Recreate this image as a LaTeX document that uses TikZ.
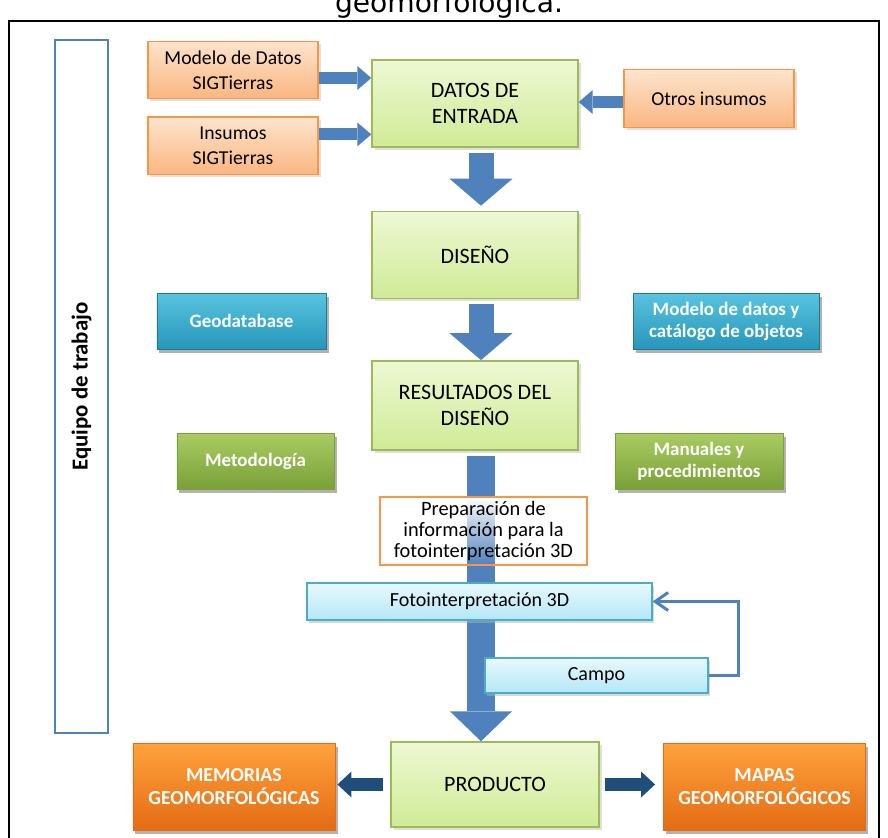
\documentclass[tikz,border=0pt]{standalone}
\usepackage{fontspec}
\setmainfont{Carlito}
\newfontfamily\titlefont{DejaVu Sans}
\usetikzlibrary{arrows.meta, positioning, shadows, fadings}
\definecolor{flechaazul}{RGB}{79,129,189}
\definecolor{azuloscuro}{RGB}{31,78,121}
\definecolor{verdeclaro}{RGB}{238,248,212}
\definecolor{verdemedio}{RGB}{208,235,150}
\definecolor{verdeborde}{RGB}{155,187,89}
\definecolor{melocoton}{RGB}{253,228,205}
\definecolor{naranjasuave}{RGB}{250,182,128}
\definecolor{naranjaborde}{RGB}{247,150,70}
\definecolor{tealclaro}{RGB}{90,196,224}
\definecolor{tealoscuro}{RGB}{38,150,186}
\definecolor{tealborde}{RGB}{33,120,150}
\definecolor{oliva}{RGB}{170,204,98}
\definecolor{olivaoscuro}{RGB}{122,160,56}
\definecolor{naranjafuerte}{RGB}{255,162,60}
\definecolor{naranjaoscuro}{RGB}{228,108,20}
\definecolor{cianclaro}{RGB}{232,249,254}
\definecolor{cianmedio}{RGB}{180,231,246}
\definecolor{cianborde}{RGB}{75,172,198}
\tikzfading[name=prepfade, top color=transparent!0, middle color=transparent!10,
            bottom color=transparent!100]

\begin{document}
\begin{tikzpicture}[x=0.2mm, y=-0.2mm,
    mainbox/.style={draw=verdeborde, line width=0.8pt, top color=verdeclaro,
                    bottom color=verdemedio, minimum width=41.2mm, minimum height=17.4mm,
                    align=center, inner sep=2pt, font=\fontsize{12.5}{15.2}\selectfont,
                    drop shadow={shadow xshift=0.6mm, shadow yshift=-0.6mm,
                                 fill=black!25}},
    inbox/.style={draw=naranjaborde, line width=0.8pt, top color=melocoton,
                  bottom color=naranjasuave, minimum width=34mm, minimum height=11.5mm,
                  align=center, inner sep=2pt, font=\fontsize{11.2}{14}\selectfont,
                  drop shadow={shadow xshift=0.5mm, shadow yshift=-0.5mm,
                               fill=black!25}},
    tealbox/.style={draw=tealborde, line width=0.5pt, top color=tealclaro,
                    bottom color=tealoscuro, minimum height=11.2mm, align=center,
                    inner sep=2pt, text=white,
                    font=\bfseries\fontsize{10.8}{12.5}\selectfont,
                    drop shadow={shadow xshift=0.5mm, shadow yshift=-0.7mm,
                                 fill=black!60}},
    olivebox/.style={tealbox, draw=olivaoscuro, top color=oliva,
                     bottom color=olivaoscuro},
    outbox/.style={tealbox, draw=naranjaoscuro, top color=naranjafuerte,
                   bottom color=naranjaoscuro, minimum width=40.4mm,
                   minimum height=17.4mm, font=\bfseries\fontsize{11.3}{13}\selectfont},
    cyanbox/.style={draw=cianborde, line width=0.6pt, top color=cianclaro,
                    bottom color=cianmedio, minimum height=7.4mm, inner sep=1pt,
                    font=\fontsize{11.4}{13}\selectfont,
                    drop shadow={shadow xshift=0.4mm, shadow yshift=-0.5mm,
                                 fill=black!30}},
    prepbox/.style={draw=naranjaborde, line width=1.5pt,
                    preaction={fill=white, path fading=prepfade},
                    minimum width=41.4mm, minimum height=13.6mm, align=center,
                    inner sep=1pt, font=\fontsize{11.6}{12}\selectfont},
    teambox/.style={draw=flechaazul, line width=1.6pt, fill=white, rotate=90,
                    minimum width=138.6mm, minimum height=10.6mm,
                    font=\bfseries\fontsize{13}{15}\selectfont},
    inarrow/.style={-{Triangle[length=2.8mm, width=4.8mm, line width=0pt]},
                    line width=2.4mm, flechaazul},
    downarrow/.style={-{Triangle[length=5.4mm, width=12.6mm, line width=0pt]},
                      line width=5mm, flechaazul},
    longarrow/.style={-{Triangle[length=6mm, width=12.4mm, line width=0pt]},
                      line width=5.6mm, flechaazul},
    outarrow/.style={-{Triangle[length=2.8mm, width=5.2mm, line width=0pt]},
                     line width=2.6mm, azuloscuro},
    fbarrow/.style={-{Straight Barb[length=2.6mm, width=3.6mm]}, line width=0.6mm,
                    flechaazul}]
    \useasboundingbox (0,0) rectangle (888,838);
    % marco y titulo cortado
    \draw[line width=0.8pt] (9,21) rectangle (879,900);
    \node[font=\titlefont\fontsize{16}{19}\selectfont, anchor=base] (titulo) at (449,12)
         {geomorfológica.};

    \node[teambox] (equipo) at (81.5,386.5) {Equipo de trabajo};

    % entradas
    \node[inbox] (modelo) at (233,70) {Modelo de Datos\\ SIGTierras};
    \node[inbox, below=3.4mm of modelo] (insumos) {Insumos\\ SIGTierras};
    \node[mainbox] (datos) at (475,103.5) {DATOS DE\\ ENTRADA};
    \node[inbox] (otros) at (709,98.5) {Otros insumos};

    % flujo central
    \node[mainbox, below=12.6mm of datos] (diseno) {DISEÑO};
    \node[mainbox, below=12.2mm of diseno, minimum height=17.8mm] (resultados)
         {RESULTADOS DEL\\ DISEÑO};
    \node[tealbox, minimum width=33.8mm] (geodb) at (241.5,321) {Geodatabase};
    \node[tealbox, minimum width=37.2mm] (catalogo) at (726,321)
         {Modelo de datos y\\ catálogo de objetos};
    \node[olivebox, minimum width=31.4mm] (metodo) at (255.5,461) {Metodología};
    \node[olivebox, minimum width=33.6mm] (manuales) at (699,461)
         {Manuales y\\ procedimientos};

    % productos
    \node[mainbox, minimum width=41.6mm, minimum height=17mm] (producto) at (495,784.5)
         {PRODUCTO};
    \node[outbox] (memorias) at (234,786.5) {MEMORIAS\\ GEOMORFOLÓGICAS};
    \node[outbox] (mapas) at (764.5,786.5) {MAPAS\\ GEOMORFOLÓGICOS};

    % flechas
    \coordinate (eje) at (481,0);
    \coordinate (m1) at ([yshift=-1.6mm]modelo.east);
    \coordinate (i1) at ([yshift=2.3mm]insumos.east);
    \coordinate (o1) at ([yshift=-0.7mm]otros.west);
    \draw[inarrow] (m1) -- (m1 -| datos.west);
    \draw[inarrow] (i1) -- (i1 -| datos.west);
    \draw[inarrow] (o1) -- (o1 -| datos.east);
    \draw[downarrow, shorten <=1mm, shorten >=1mm] (datos.south -| eje) -- (diseno.north -| eje);
    \draw[downarrow, shorten <=1mm] (diseno.south -| eje) -- (resultados.north -| eje);
    \draw[longarrow, shorten <=1mm] (resultados.south -| eje) -- (producto.north -| eje);
    \draw[outarrow, shorten <=1.4mm, shorten >=0.4mm] (producto.west) -- (producto.west -| memorias.east);
    \draw[outarrow, shorten <=1mm, shorten >=1.6mm] (producto.east) -- (producto.east -| mapas.west);

    % fotointerpretacion y campo
    \node[prepbox] (prep) at (483.5,531)
         {Preparación de\\ información para la\\ fotointerpretación 3D};
    \node[cyanbox, minimum width=69mm] (foto) at (479.5,601.5) {Fotointerpretación 3D};
    \node[cyanbox, minimum width=44.6mm, minimum height=7mm] (campo) at (596.5,675.5)
         {Campo};
    \draw[fbarrow] (campo.east) -- ++(30,0) |- (foto.east);
\end{tikzpicture}
\end{document}
